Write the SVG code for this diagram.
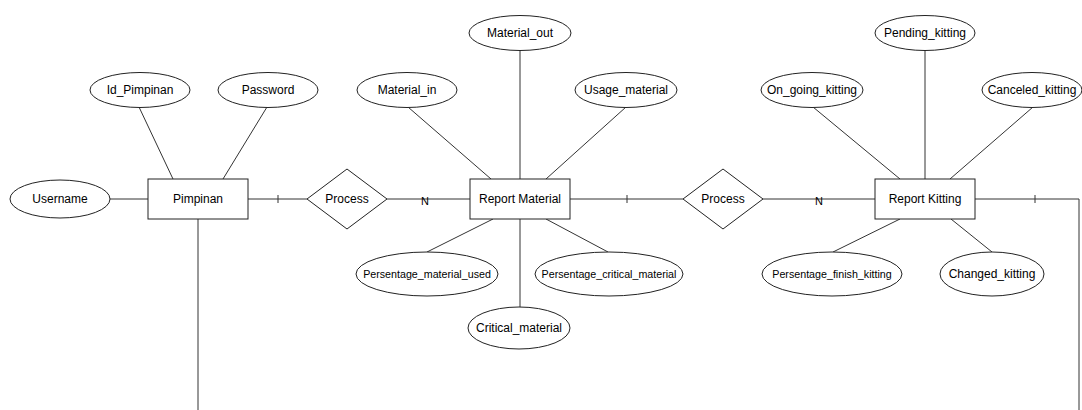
<svg xmlns="http://www.w3.org/2000/svg" width="1082" height="410" viewBox="0 0 1082 410">
  <style>
    .ent rect { fill: #fff; stroke: #222; stroke-width: 1; }
    .attr ellipse { fill: #fff; stroke: #222; stroke-width: 1; }
    .rel polygon { fill: #fff; stroke: #222; stroke-width: 1; }
    text { font-family: "Liberation Sans", Arial, sans-serif; font-size: 12px; fill: #000; text-anchor: middle; dominant-baseline: central; }
    .long text { font-size: 10.7px; }
    .links line, .links polyline { stroke: #333; stroke-width: 1; fill: none; }
    .tick { stroke: #555; stroke-width: 1.5; }
    .card { font-size: 11px; }
  </style>
  <rect width="1082" height="410" fill="#fff"/>

  <!-- connectors -->
  <g id="connectors" class="links">
    <!-- Pimpinan attributes -->
    <line x1="110" y1="199" x2="148" y2="199"/>
    <line x1="139" y1="107" x2="173" y2="179"/>
    <line x1="267" y1="107" x2="223" y2="179"/>
    <line x1="198" y1="219" x2="198" y2="410"/>
    <!-- Pimpinan - Process - Report Material -->
    <line x1="248" y1="199" x2="307" y2="199"/>
    <line x1="387" y1="199" x2="470" y2="199"/>
    <!-- Report Material attributes -->
    <line x1="408" y1="107" x2="491" y2="179"/>
    <line x1="520" y1="50" x2="520" y2="179"/>
    <line x1="626" y1="107" x2="546" y2="179"/>
    <line x1="493" y1="219" x2="427" y2="252"/>
    <line x1="520" y1="219" x2="520" y2="310"/>
    <line x1="546" y1="219" x2="608" y2="252"/>
    <!-- Report Material - Process - Report Kitting -->
    <line x1="570" y1="199" x2="683" y2="199"/>
    <line x1="763" y1="199" x2="875" y2="199"/>
    <!-- Report Kitting attributes -->
    <line x1="813" y1="107" x2="900" y2="179"/>
    <line x1="925" y1="50" x2="925" y2="179"/>
    <line x1="1033" y1="107" x2="950" y2="179"/>
    <line x1="900" y1="219" x2="833" y2="252"/>
    <line x1="951" y1="219" x2="992" y2="252"/>
    <!-- Report Kitting outgoing -->
    <polyline points="975,199 1079,199 1079,410"/>
    <!-- cardinality marks -->
    <line class="tick" x1="278" y1="195" x2="278" y2="203"/>
    <line class="tick" x1="627" y1="195" x2="627" y2="203"/>
    <line class="tick" x1="1035" y1="195" x2="1035" y2="203"/>
    <text class="card" x="425" y="201">N</text>
    <text class="card" x="819" y="201">N</text>
  </g>

  <!-- entities -->
  <g id="pimpinan" class="ent"><rect x="148" y="179" width="100" height="40"/><text x="198" y="199">Pimpinan</text></g>
  <g id="report-material" class="ent"><rect x="470" y="179" width="100" height="40"/><text x="520" y="199">Report Material</text></g>
  <g id="report-kitting" class="ent"><rect x="875" y="179" width="100" height="40"/><text x="925" y="199">Report Kitting</text></g>

  <!-- relationships -->
  <g id="process-1" class="rel"><polygon points="307,199 347,169 387,199 347,229"/><text x="347" y="199">Process</text></g>
  <g id="process-2" class="rel"><polygon points="683,199 723,169 763,199 723,229"/><text x="723" y="199">Process</text></g>

  <!-- attributes of Pimpinan -->
  <g id="username" class="attr"><ellipse cx="60" cy="199" rx="50" ry="19"/><text x="60" y="199">Username</text></g>
  <g id="id-pimpinan" class="attr"><ellipse cx="140" cy="90" rx="50" ry="17.5"/><text x="140" y="90">Id_Pimpinan</text></g>
  <g id="password" class="attr"><ellipse cx="268" cy="90" rx="50" ry="17.5"/><text x="268" y="90">Password</text></g>

  <!-- attributes of Report Material -->
  <g id="material-in" class="attr"><ellipse cx="407" cy="90" rx="50" ry="17.5"/><text x="407" y="90">Material_in</text></g>
  <g id="material-out" class="attr"><ellipse cx="520" cy="33" rx="51" ry="17.5"/><text x="520" y="33">Material_out</text></g>
  <g id="usage-material" class="attr"><ellipse cx="626" cy="90" rx="51" ry="17.5"/><text x="626" y="90">Usage_material</text></g>
  <g id="persentage-material-used" class="attr long"><ellipse cx="427" cy="274" rx="71" ry="22"/><text x="427" y="274">Persentage_material_used</text></g>
  <g id="critical-material" class="attr"><ellipse cx="519" cy="328" rx="51" ry="21"/><text x="519" y="328">Critical_material</text></g>
  <g id="persentage-critical-material" class="attr long"><ellipse cx="609" cy="274" rx="74" ry="22"/><text x="609" y="274">Persentage_critical_material</text></g>

  <!-- attributes of Report Kitting -->
  <g id="on-going-kitting" class="attr"><ellipse cx="812" cy="90" rx="51" ry="17.5"/><text x="812" y="90">On_going_kitting</text></g>
  <g id="pending-kitting" class="attr"><ellipse cx="925" cy="33" rx="50" ry="17.5"/><text x="925" y="33">Pending_kitting</text></g>
  <g id="canceled-kitting" class="attr"><ellipse cx="1032" cy="90" rx="50" ry="17.5"/><text x="1032" y="90">Canceled_kitting</text></g>
  <g id="persentage-finish-kitting" class="attr long"><ellipse cx="832" cy="274" rx="70" ry="22"/><text x="832" y="274">Persentage_finish_kitting</text></g>
  <g id="changed-kitting" class="attr"><ellipse cx="992" cy="274" rx="52" ry="22"/><text x="992" y="274">Changed_kitting</text></g>
</svg>
